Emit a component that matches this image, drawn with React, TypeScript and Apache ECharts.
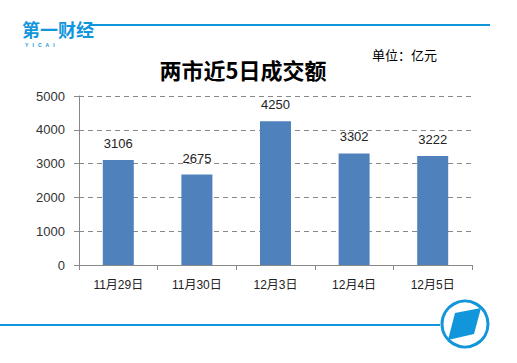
import React, { useEffect, useRef } from "react";
import * as echarts from "echarts";

const categories = ["11月29日", "11月30日", "12月3日", "12月4日", "12月5日"];
const turnover = [3106, 2675, 4250, 3302, 3222];
const yTicks = [0, 1000, 2000, 3000, 4000, 5000];

const BLUE = "#1296db";

export default function App() {
  const ref = useRef<HTMLDivElement>(null);
  useEffect(() => {
    const chart = echarts.init(ref.current!, null, { renderer: "svg" });
    chart.setOption({
      animation: false,
      backgroundColor: "#ffffff",
      grid: { left: 79, right: 45, top: 96, bottom: 98 },
      xAxis: {
        type: "category",
        data: categories,
        axisLine: { lineStyle: { color: "#888888", width: 1 } },
        axisTick: { show: true, length: 5, lineStyle: { color: "#888888" } },
        axisLabel: {
          color: "#222",
          fontSize: 12,
          fontFamily: "Liberation Sans, Noto Sans CJK SC",
          margin: 14,
        },
      },
      yAxis: {
        type: "value",
        min: yTicks[0],
        max: yTicks[yTicks.length - 1],
        interval: 1000,
        axisLine: { show: true, lineStyle: { color: "#888888" } },
        axisTick: { show: true, length: 5, lineStyle: { color: "#888888" } },
        axisLabel: {
          color: "#333",
          fontSize: 13,
          fontFamily: "Liberation Sans",
          margin: 14,
          formatter: (v: number) => String(v),
        },
        splitLine: { lineStyle: { color: "#888888", type: [5, 4], width: 1 } },
      },
      series: [
        {
          type: "bar",
          data: turnover,
          barWidth: 31,
          itemStyle: { color: "#4f81bd" },
          label: {
            show: true,
            position: "top",
            distance: 10,
            color: "#222",
            fontSize: 13,
            fontFamily: "Liberation Sans",
          },
        },
      ],
      graphic: [
        { type: "line", shape: { x1: 90, y1: 25, x2: 490, y2: 25 }, style: { stroke: BLUE, lineWidth: 2 } },
        {
          type: "text",
          x: 22,
          y: 20,
          style: { text: "第一财经", fill: BLUE, font: "bold 18px 'Noto Sans CJK SC'" },
        },
        {
          type: "text",
          x: 25,
          y: 42,
          style: { text: "Y   I   C   A   I", fill: BLUE, font: "bold 5px 'Liberation Sans'" },
        },
        {
          type: "text",
          x: 243,
          y: 69,
          style: {
            text: "两市近5日成交额",
            fill: "#000",
            font: "bold 22px 'Noto Sans CJK SC'",
            align: "center",
            verticalAlign: "middle",
          },
        },
        {
          type: "text",
          x: 372,
          y: 54,
          style: {
            text: "单位：亿元",
            fill: "#000",
            font: "13px 'Noto Sans CJK SC'",
            verticalAlign: "middle",
          },
        },
        { type: "line", shape: { x1: 0, y1: 325, x2: 440, y2: 325 }, style: { stroke: BLUE, lineWidth: 2 } },
        {
          type: "circle",
          shape: { cx: 465, cy: 324, r: 23 },
          style: { fill: "#ffffff", stroke: BLUE, lineWidth: 3 },
        },
        {
          type: "polygon",
          shape: { points: [[455, 313], [481, 308], [474, 334], [448, 340]] },
          style: { fill: BLUE },
        },
      ],
    });
    return () => chart.dispose();
  }, []);
  return <div ref={ref} style={{ width: 517, height: 363, position: "absolute", left: 0, top: 0 }} />;
}
